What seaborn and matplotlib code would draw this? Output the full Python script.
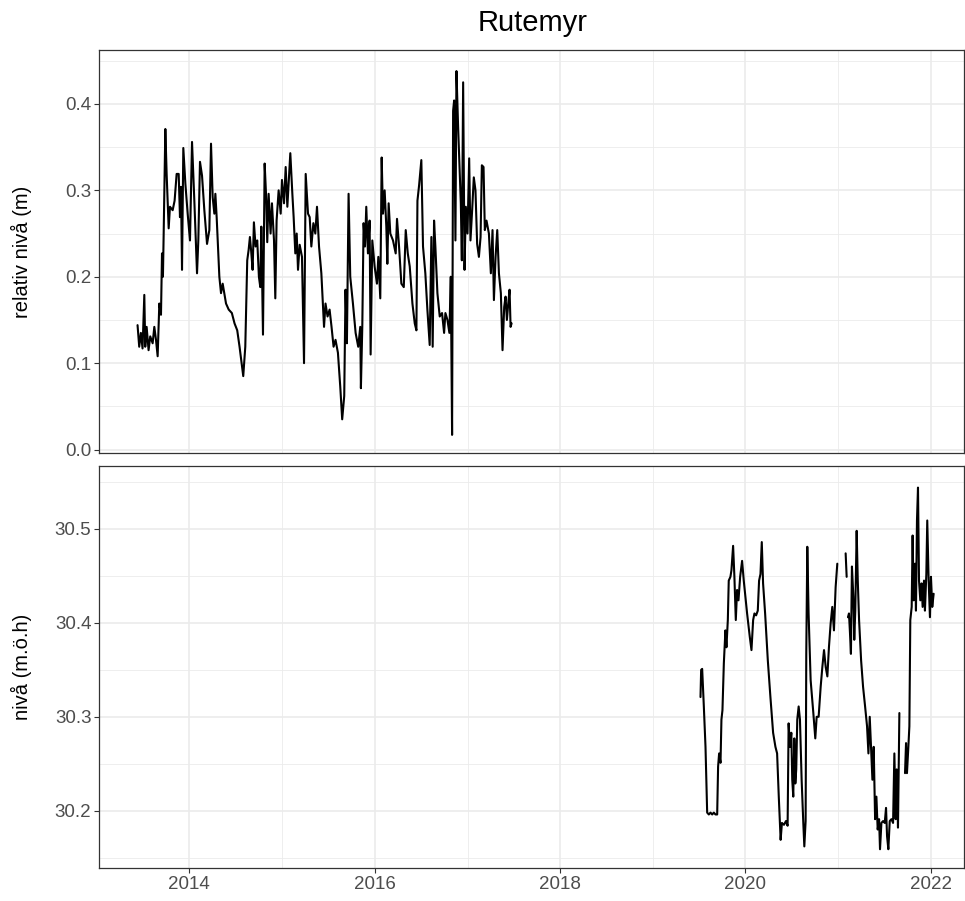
import numpy as np
import pandas as pd
import matplotlib
matplotlib.use("Agg")
import matplotlib.pyplot as plt
import matplotlib.dates as mdates
import seaborn as sns

# Rutemyr - groundwater level, two logger periods
# time as decimal year

top_year = [
    2013.441, 2013.459, 2013.477, 2013.495, 2013.514, 2013.524, 2013.539, 2013.560,
    2013.578, 2013.604, 2013.622, 2013.640, 2013.658, 2013.676, 2013.694, 2013.705,
    2013.715, 2013.723, 2013.741, 2013.755, 2013.777, 2013.791, 2013.820, 2013.841,
    2013.863, 2013.885, 2013.899, 2013.910, 2013.921, 2013.935, 2013.957, 2013.982,
    2014.007, 2014.029, 2014.054, 2014.083, 2014.097, 2014.115, 2014.137, 2014.162,
    2014.191, 2014.216, 2014.234, 2014.252, 2014.270, 2014.281, 2014.295, 2014.324,
    2014.342, 2014.360, 2014.396, 2014.425, 2014.459, 2014.488, 2014.517, 2014.542,
    2014.560, 2014.582, 2014.604, 2014.625, 2014.640, 2014.654, 2014.668, 2014.683,
    2014.697, 2014.715, 2014.733, 2014.751, 2014.766, 2014.777, 2014.795, 2014.813,
    2014.831, 2014.841, 2014.856, 2014.877, 2014.892, 2014.914, 2014.928, 2014.942,
    2014.964, 2014.986, 2015.000, 2015.022, 2015.040, 2015.058, 2015.090, 2015.112,
    2015.126, 2015.144, 2015.159, 2015.173, 2015.191, 2015.216, 2015.238, 2015.256,
    2015.281, 2015.299, 2015.317, 2015.339, 2015.360, 2015.378, 2015.400, 2015.425,
    2015.454, 2015.470, 2015.492, 2015.514, 2015.535, 2015.557, 2015.578, 2015.604,
    2015.629, 2015.650, 2015.672, 2015.686, 2015.701, 2015.719, 2015.737, 2015.766,
    2015.795, 2015.823, 2015.845, 2015.852, 2015.867, 2015.881, 2015.896, 2015.910,
    2015.928, 2015.946, 2015.957, 2015.975, 2016.000, 2016.025, 2016.040, 2016.061,
    2016.076, 2016.090, 2016.108, 2016.126, 2016.137, 2016.151, 2016.169, 2016.198,
    2016.227, 2016.241, 2016.263, 2016.288, 2016.314, 2016.335, 2016.357, 2016.378,
    2016.407, 2016.432, 2016.450, 2016.461, 2016.479, 2016.503, 2016.521, 2016.546,
    2016.568, 2016.593, 2016.611, 2016.625, 2016.640, 2016.654, 2016.676, 2016.701,
    2016.726, 2016.748, 2016.762, 2016.784, 2016.805, 2016.820, 2016.834, 2016.845,
    2016.856, 2016.870, 2016.881, 2016.899, 2016.914, 2016.928, 2016.939, 2016.953,
    2016.968, 2016.982, 2017.000, 2017.018, 2017.032, 2017.050, 2017.068, 2017.086,
    2017.104, 2017.123, 2017.141, 2017.155, 2017.173, 2017.187, 2017.205, 2017.231,
    2017.252, 2017.270, 2017.285, 2017.303, 2017.321, 2017.339, 2017.360, 2017.378,
    2017.396, 2017.411, 2017.425, 2017.440, 2017.454, 2017.465, 2017.476,
]
top_level = [
    0.144, 0.119, 0.135, 0.117, 0.179, 0.119, 0.142, 0.115,
    0.131, 0.123, 0.142, 0.127, 0.108, 0.169, 0.156, 0.227,
    0.200, 0.250, 0.371, 0.319, 0.256, 0.281, 0.277, 0.288,
    0.319, 0.319, 0.269, 0.304, 0.208, 0.349, 0.308, 0.273,
    0.242, 0.356, 0.288, 0.204, 0.242, 0.333, 0.317, 0.277,
    0.238, 0.254, 0.354, 0.292, 0.273, 0.296, 0.269, 0.200,
    0.181, 0.192, 0.169, 0.162, 0.158, 0.146, 0.138, 0.119,
    0.104, 0.085, 0.119, 0.219, 0.231, 0.246, 0.229, 0.208,
    0.263, 0.235, 0.242, 0.200, 0.188, 0.258, 0.133, 0.331,
    0.288, 0.240, 0.296, 0.250, 0.285, 0.242, 0.175, 0.265,
    0.300, 0.273, 0.312, 0.285, 0.327, 0.281, 0.343, 0.296,
    0.269, 0.227, 0.250, 0.208, 0.237, 0.223, 0.100, 0.319,
    0.273, 0.269, 0.235, 0.262, 0.250, 0.281, 0.235, 0.204,
    0.142, 0.169, 0.154, 0.162, 0.142, 0.119, 0.127, 0.112,
    0.073, 0.035, 0.062, 0.185, 0.123, 0.296, 0.200, 0.169,
    0.135, 0.119, 0.142, 0.071, 0.142, 0.262, 0.235, 0.281,
    0.227, 0.265, 0.110, 0.242, 0.212, 0.192, 0.223, 0.175,
    0.338, 0.273, 0.300, 0.258, 0.215, 0.285, 0.250, 0.242,
    0.227, 0.267, 0.235, 0.192, 0.188, 0.254, 0.227, 0.212,
    0.169, 0.146, 0.138, 0.288, 0.306, 0.335, 0.235, 0.204,
    0.162, 0.121, 0.246, 0.119, 0.265, 0.235, 0.181, 0.154,
    0.158, 0.135, 0.158, 0.150, 0.135, 0.200, 0.017, 0.392,
    0.404, 0.242, 0.438, 0.373, 0.327, 0.285, 0.219, 0.425,
    0.208, 0.281, 0.250, 0.337, 0.242, 0.277, 0.315, 0.300,
    0.238, 0.223, 0.246, 0.329, 0.327, 0.254, 0.265, 0.250,
    0.204, 0.254, 0.173, 0.223, 0.254, 0.204, 0.181, 0.115,
    0.165, 0.177, 0.150, 0.169, 0.185, 0.142, 0.146,
]

# NaN marks a gap in the logger record
bot_year = [
    2019.515, 2019.522, 2019.533, 2019.551, 2019.569, 2019.587, 2019.605, 2019.623,
    2019.641, 2019.659, 2019.677, 2019.695, 2019.705, 2019.716, 2019.731, 2019.741,
    2019.752, 2019.767, 2019.784, 2019.795, 2019.810, 2019.820, 2019.838, 2019.849,
    2019.867, 2019.881, 2019.896, 2019.910, 2019.925, 2019.943, 2019.964, 2019.982,
    2020.018, 2020.047, 2020.065, 2020.083, 2020.097, 2020.115, 2020.133, 2020.147,
    2020.162, 2020.176, 2020.190, 2020.212, 2020.241, 2020.269, 2020.298, 2020.323,
    2020.341, 2020.359, 2020.379, 2020.393, 2020.415, 2020.436, 2020.454, 2020.465,
    2020.479, 2020.494, 2020.504, 2020.515, 2020.526, 2020.537, 2020.547, 2020.558,
    2020.573, 2020.587, 2020.605, 2020.623, 2020.634, 2020.648, 2020.655, 2020.666,
    2020.680, 2020.702, 2020.731, 2020.752, 2020.767, 2020.788, 2020.810, 2020.828,
    2020.846, 2020.864, 2020.882, 2020.899, 2020.917, 2020.935, 2020.953, 2020.971,
    2020.989, 2021.020, 2021.079, 2021.090, 2021.095, 2021.104, 2021.115, 2021.126,
    2021.136, 2021.147, 2021.162, 2021.172, 2021.183, 2021.198, 2021.210, 2021.224,
    2021.246, 2021.267, 2021.289, 2021.310, 2021.325, 2021.339, 2021.353, 2021.368,
    2021.382, 2021.397, 2021.411, 2021.425, 2021.440, 2021.450, 2021.465, 2021.483,
    2021.501, 2021.515, 2021.526, 2021.540, 2021.555, 2021.573, 2021.591, 2021.605,
    2021.619, 2021.630, 2021.644, 2021.659, 2021.680, 2021.720, 2021.731, 2021.741,
    2021.756, 2021.767, 2021.777, 2021.792, 2021.802, 2021.813, 2021.828, 2021.838,
    2021.849, 2021.860, 2021.871, 2021.885, 2021.899, 2021.910, 2021.925, 2021.935,
    2021.950, 2021.960, 2021.975, 2021.989, 2022.000, 2022.014, 2022.029,
]
bot_level = [
    30.321, 30.350, 30.351, 30.311, 30.268, 30.198, 30.196, 30.198,
    30.196, 30.198, 30.196, 30.196, 30.247, 30.261, 30.251, 30.297,
    30.307, 30.357, 30.392, 30.374, 30.403, 30.445, 30.449, 30.456,
    30.482, 30.449, 30.403, 30.435, 30.424, 30.449, 30.466, 30.445,
    30.410, 30.385, 30.371, 30.403, 30.410, 30.408, 30.413, 30.445,
    30.452, 30.486, 30.442, 30.410, 30.360, 30.321, 30.283, 30.268,
    30.261, 30.215, 30.169, 30.187, 30.185, 30.189, 30.184, 30.293,
    30.268, 30.283, 30.233, 30.215, 30.277, 30.229, 30.244, 30.297,
    30.311, 30.297, 30.233, 30.187, 30.162, 30.189, 30.367, 30.481,
    30.410, 30.339, 30.304, 30.277, 30.300, 30.300, 30.332, 30.353,
    30.371, 30.353, 30.343, 30.374, 30.399, 30.417, 30.392, 30.438,
    30.463, np.nan, 30.474, 30.449, np.nan, 30.406, 30.410, 30.389,
    30.367, 30.460, 30.428, 30.382, 30.413, 30.498, 30.445, 30.403,
    30.360, 30.332, 30.311, 30.290, 30.261, 30.300, 30.268, 30.233,
    30.268, 30.191, 30.215, 30.180, 30.191, 30.159, 30.187, 30.189,
    30.187, 30.203, 30.173, 30.159, 30.189, 30.191, 30.187, 30.261,
    30.191, 30.244, 30.182, 30.304, np.nan, 30.240, 30.272, 30.240,
    30.268, 30.290, 30.403, 30.417, 30.493, 30.424, 30.463, 30.413,
    30.509, 30.544, 30.445, 30.424, 30.442, 30.417, 30.445, 30.413,
    30.452, 30.509, 30.445, 30.406, 30.449, 30.417, 30.431,
]


def to_date(years):
    years = np.asarray(years, dtype=float)
    whole = np.floor(years).astype(int)
    start = pd.to_datetime([f"{y}-01-01" for y in whole])
    end = pd.to_datetime([f"{y + 1}-01-01" for y in whole])
    return start + (end - start) * (years - whole)


def make_df(years, values):
    df = pd.DataFrame({"dato": to_date(years), "niva": values})
    # segment id so gaps (NaN) break the line
    df["seg"] = df["niva"].isna().cumsum()
    return df.dropna()


df_top = make_df(top_year, top_level)
df_bot = make_df(bot_year, bot_level)

sns.set_style("white")
plt.rcParams["font.family"] = ["Liberation Sans", "DejaVu Sans"]

fig = plt.figure(figsize=(9.65, 9.01), dpi=100)
ax1 = fig.add_axes([0.1026, 0.4972, 0.8964, 0.4473])
ax2 = fig.add_axes([0.1026, 0.0366, 0.8964, 0.4462], sharex=ax1)

sns.lineplot(data=df_top, x="dato", y="niva", units="seg", estimator=None,
             color="black", linewidth=1.5, ax=ax1)
sns.lineplot(data=df_bot, x="dato", y="niva", units="seg", estimator=None,
             color="black", linewidth=1.5, ax=ax2)

xmin = to_date([2013.025])[0]
xmax = to_date([2022.357])[0]
ax2.set_xlim(xmin, xmax)
ax2.xaxis.set_major_locator(mdates.YearLocator(2))
ax2.xaxis.set_minor_locator(mdates.YearLocator(1))
ax2.xaxis.set_major_formatter(mdates.DateFormatter("%Y"))

ax1.set_ylim(-0.004, 0.4624)
ax1.set_yticks([0.0, 0.1, 0.2, 0.3, 0.4])
ax1.set_yticks([0.05, 0.15, 0.25, 0.35, 0.45], minor=True)
ax1.set_yticklabels(["0.0", "0.1", "0.2", "0.3", "0.4"])

ax2.set_ylim(30.139, 30.567)
ax2.set_yticks([30.2, 30.3, 30.4, 30.5])
ax2.set_yticks([30.15, 30.25, 30.35, 30.45, 30.55], minor=True)
ax2.set_yticklabels(["30.2", "30.3", "30.4", "30.5"])

for ax in (ax1, ax2):
    ax.grid(which="major", color="#EBEBEB", linewidth=1.2)
    ax.grid(which="minor", color="#EBEBEB", linewidth=0.6)
    ax.set_axisbelow(True)
    for s in ax.spines.values():
        s.set_color("#333333")
        s.set_linewidth(0.9)
    ax.tick_params(axis="y", which="major", left=True, length=3.5, width=0.8,
                   color="#333333", labelsize=13.5, labelcolor="#4D4D4D", pad=2)
    ax.tick_params(which="minor", length=0)
    ax.set_xlabel("")

ax1.tick_params(axis="x", which="both", bottom=False, labelbottom=False)
ax2.tick_params(axis="x", which="major", bottom=True, length=3.5, width=0.8,
                color="#333333", labelsize=13.5, labelcolor="#4D4D4D", pad=2)

ax1.set_ylabel("relativ nivå (m)", fontsize=14.5, color="black")
ax2.set_ylabel("nivå (m.ö.h)", fontsize=14.5, color="black")
ax1.yaxis.set_label_coords(-0.077, 0.5)
ax2.yaxis.set_label_coords(-0.077, 0.5)

fig.text(0.552, 0.975, "Rutemyr", ha="center", va="center", fontsize=21,
         color="black")

fig.savefig("out.png", dpi=100)
